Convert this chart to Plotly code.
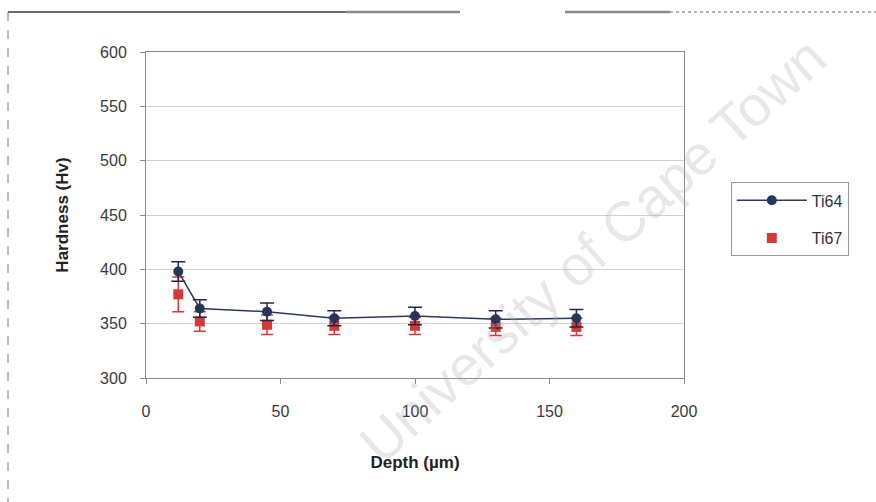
import plotly.graph_objects as go

depth = [12, 20, 45, 70, 100, 130, 160]
ti64 = [398, 364, 361, 355, 357, 354, 355]
ti64_err = [9, 8, 8, 7, 8, 8, 8]
ti67 = [377, 352, 349, 348, 348, 347, 347]
ti67_err = [16, 9, 9, 8, 8, 8, 8]

x_ticks = [0, 50, 100, 150, 200]
y_ticks = [300, 350, 400, 450, 500, 550, 600]

FONT = "Arial, 'Liberation Sans', sans-serif"

fig = go.Figure()
fig.add_trace(go.Scatter(
    x=depth, y=ti67, name="Ti67", mode="markers", legendrank=2, legendgroup="g2",
    marker=dict(symbol="square", size=10, color="#d63a36"),
    error_y=dict(type="data", array=ti67_err, color="#d63a36", thickness=1.5, width=6),
))
fig.add_trace(go.Scatter(
    x=depth, y=ti64, name="Ti64", mode="lines+markers", legendrank=1, legendgroup="g1",
    line=dict(color="#2b3a58", width=1.5),
    marker=dict(symbol="circle", size=10, color="#25365a"),
    error_y=dict(type="data", array=ti64_err, color="#1f2a40", thickness=1.5, width=7),
))

fig.update_layout(
    width=876, height=502,
    margin=dict(l=146, r=192, t=52, b=124),
    paper_bgcolor="white", plot_bgcolor="white",
    font=dict(family=FONT, size=16, color="#3a3a3a"),
    showlegend=True,
    legend=dict(
        x=1.087, y=0.60, xanchor="left", yanchor="top",
        bordercolor="#9a9a9a", borderwidth=1, bgcolor="white",
        font=dict(size=16, color="#333333"),
        traceorder="grouped", itemwidth=70, tracegroupgap=14,
    ),
    xaxis=dict(
        range=[0, 200], tickvals=x_ticks, ticktext=[str(v) for v in x_ticks],
        showgrid=False, zeroline=False,
        showline=True, linecolor="#8c8c8c", linewidth=1, mirror=True,
        ticks="outside", ticklen=5, tickcolor="#8c8c8c", ticklabelstandoff=14,
        title=dict(text="<b>Depth (µm)</b>", font=dict(size=17, color="#222222"), standoff=36),
    ),
    yaxis=dict(
        range=[300, 600], tickvals=y_ticks, ticktext=[str(v) for v in y_ticks],
        showgrid=True, gridcolor="#d2d2d2", gridwidth=1, zeroline=False,
        showline=True, linecolor="#8c8c8c", linewidth=1, mirror=True,
        ticks="outside", ticklen=5, tickcolor="#8c8c8c", ticklabelstandoff=10,
        title=dict(text="<b>Hardness (Hv)</b>", font=dict(size=17, color="#222222"), standoff=27),
    ),
)

# outer frame of the scanned figure
px_x = lambda p: (p - 146) / 538
px_y = lambda p: (378 - p) / 326
fig.add_shape(type="line", xref="paper", yref="paper", x0=px_x(8), x1=px_x(346), y0=px_y(12), y1=px_y(12),
              line=dict(color="#3a3a3a", width=1.5))
fig.add_shape(type="line", xref="paper", yref="paper", x0=px_x(346), x1=px_x(460), y0=px_y(12), y1=px_y(12),
              line=dict(color="#8a8a8a", width=2.5))
fig.add_shape(type="line", xref="paper", yref="paper", x0=px_x(565), x1=px_x(670), y0=px_y(12), y1=px_y(12),
              line=dict(color="#8a8a8a", width=2.5))
fig.add_shape(type="line", xref="paper", yref="paper", x0=px_x(670), x1=px_x(876), y0=px_y(12), y1=px_y(12),
              line=dict(color="#9a9a9a", width=1.5, dash="dot"))
fig.add_shape(type="line", xref="paper", yref="paper", x0=px_x(8), x1=px_x(8), y0=px_y(12), y1=px_y(502),
              line=dict(color="#7a7a7a", width=1, dash="dash"))

# watermark
fig.add_annotation(
    xref="paper", yref="paper", x=px_x(592), y=px_y(250), xanchor="center", yanchor="middle",
    text="University of Cape Town", showarrow=False, textangle=-42,
    font=dict(family=FONT, size=56, color="rgba(170,170,170,0.28)"),
)

fig.write_html("out.html")
